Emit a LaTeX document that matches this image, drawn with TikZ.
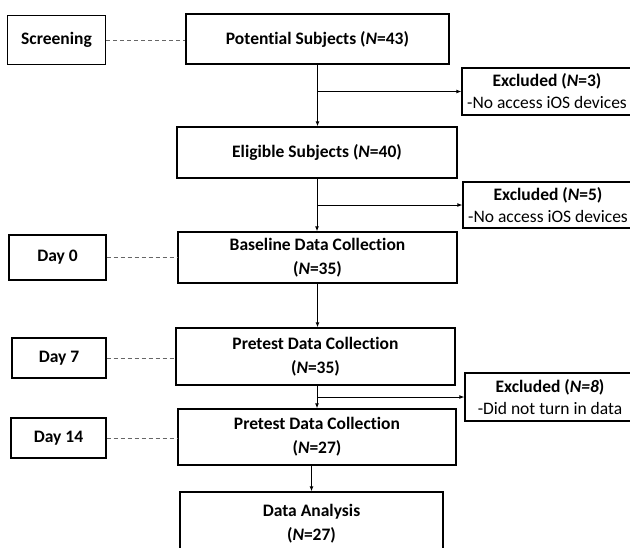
\documentclass[tikz,border=0pt]{standalone}
\usepackage{fontspec}
\setmainfont{Carlito}[Ligatures=NoCommon]
\usetikzlibrary{arrows.meta}

\tikzset{
    box/.style={draw, line width=1.4pt, align=center, inner sep=2pt, font=\bfseries\fontsize{17.5}{24}\selectfont},
    daybox/.style={box, line width=1.3pt},
    exclbox/.style={draw, line width=1.3pt, align=center, inner sep=2pt, minimum width=170pt, font=\fontsize{17.5}{22}\selectfont},
    arr/.style={-{Latex[length=5pt,width=4pt]}, line width=0.9pt},
    dashline/.style={draw=black!60, line width=0.8pt, dash pattern=on 4pt off 3pt}
}

\begin{document}
\begin{tikzpicture}[x=1pt, y=-1pt]
\useasboundingbox (0,0) rectangle (630,547);

\node[daybox, minimum width=98pt, minimum height=49pt] (scr) at (56.5,40) {Screening};
\node[box, minimum width=263pt, minimum height=50pt] (pot) at (317.5,39) {Potential Subjects (\textit{N}=43)};
\node[exclbox, minimum height=47pt] (exc1) at (547,91.5)
    {\textbf{Excluded (\textit{N}=3)}\\-No access iOS devices};
\node[box, minimum width=280pt, minimum height=51pt] (elig) at (317,152.5) {Eligible Subjects (\textit{N}=40)};
\node[exclbox, minimum height=46pt] (exc2) at (548,205)
    {\textbf{Excluded (\textit{N}=5)}\\-No access iOS devices};

\node[daybox, minimum width=97pt, minimum height=45pt] (day0) at (57.5,257.5) {Day 0};
\node[box, minimum width=279pt, minimum height=51pt] (base) at (317.5,257.5) {Baseline Data Collection\\(\textit{N}=35)};

\node[daybox, minimum width=94pt, minimum height=40pt] (day7) at (59,358) {Day 7};
\node[box, minimum width=279pt, minimum height=57pt] (pre1) at (315.5,356.5) {Pretest Data Collection\\(\textit{N}=35)};
\node[exclbox, minimum height=48pt] (exc3) at (550,397)
    {\textbf{Excluded (\textit{N=8})}\\-Did not turn in data};

\node[daybox, minimum width=95pt, minimum height=40pt] (day14) at (58.5,438) {Day 14};
\node[box, minimum width=278pt, minimum height=56pt] (pre2) at (317,437) {Pretest Data Collection\\(\textit{N}=27)};
\node[box, minimum width=263pt, minimum height=63pt] (da) at (311.5,523.5) {Data Analysis\\(\textit{N}=27)};

\draw[dashline] (scr.east) -- (scr.east -| pot.west);
\draw[dashline] (day0.east) -- (day0.east -| base.west);
\draw[dashline] (day7.east) -- (day7.east -| pre1.west);
\draw[dashline] (day14.east) -- (day14.east -| pre2.west);

\draw[arr] (pot.south) -- (pot.south |- elig.north);
\draw[arr] (pot.south |- exc1.west) -- (exc1.west);
\draw[arr] (elig.south) -- (elig.south |- base.north);
\draw[arr] (elig.south |- exc2.west) -- (exc2.west);
\draw[arr] (base.south) -- (base.south |- pre1.north);
\draw[arr] (pre1.south -| pre2.north) -- (pre2.north);
\draw[arr] (pre2.north |- exc3.west) -- (exc3.west);
\draw[arr] (da.north |- pre2.south) -- (da.north);
\end{tikzpicture}
\end{document}
